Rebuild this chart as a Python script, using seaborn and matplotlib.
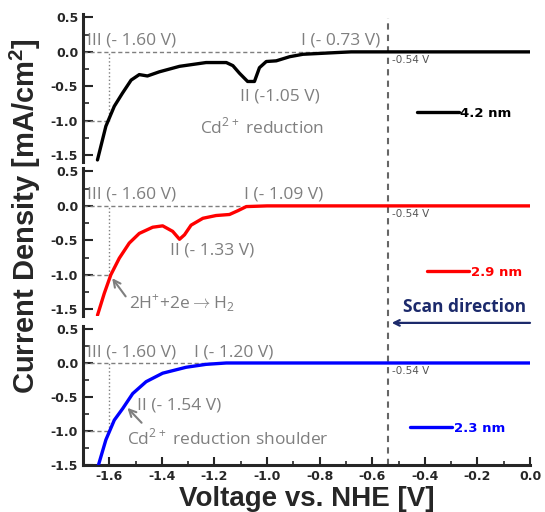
import numpy as np
import pandas as pd
import matplotlib
matplotlib.use("Agg")
import matplotlib.pyplot as plt
import seaborn as sns
from matplotlib.lines import Line2D
from matplotlib.transforms import blended_transform_factory

sns.set_style("ticks")
plt.rcParams['axes.unicode_minus'] = False
plt.rcParams['mathtext.fontset'] = 'custom'
plt.rcParams['mathtext.rm'] = 'Open Sans'
plt.rcParams['mathtext.bf'] = 'Liberation Sans:bold'

# voltage (V vs NHE) and current density (mA/cm2)
v_42 = [-1.645, -1.613, -1.581, -1.55, -1.517, -1.486, -1.455, -1.41, -1.333, -1.232,
        -1.155, -1.13, -1.105, -1.074, -1.048, -1.029, -1.003, -0.965, -0.914, -0.864,
        -0.736, -0.68, -0.4, 0.0]
i_42 = [-1.57, -1.08, -0.79, -0.60, -0.41, -0.33, -0.35, -0.29, -0.21, -0.155,
        -0.155, -0.20, -0.31, -0.43, -0.43, -0.23, -0.14, -0.13, -0.07, -0.035,
        -0.01, 0.0, 0.0, 0.0]

v_29 = [-1.645, -1.619, -1.594, -1.562, -1.524, -1.486, -1.435, -1.397, -1.359, -1.333,
        -1.314, -1.289, -1.244, -1.194, -1.143, -1.111, -1.079, -1.0, 0.0]
i_29 = [-1.59, -1.27, -1.0, -0.76, -0.54, -0.40, -0.31, -0.29, -0.37, -0.485,
        -0.42, -0.28, -0.18, -0.14, -0.125, -0.07, -0.01, 0.0, 0.0]

v_23 = [-1.645, -1.613, -1.581, -1.549, -1.511, -1.460, -1.397, -1.308, -1.232, -1.155, 0.0]
i_23 = [-1.55, -1.13, -0.84, -0.67, -0.45, -0.275, -0.15, -0.063, -0.02, 0.0, 0.0]

sizes = ["4.2 nm", "2.9 nm", "2.3 nm"]
colors = ["black", "#ff0000", "#0000ff"]
onset_I = [-0.73, -1.09, -1.20]   # point I of each curve
peak_II = ["II (-1.05 V)", "II (- 1.33 V)", "II (- 1.54 V)"]
point_III = -1.60
fermi_v = -0.54

gray = "#7f7f7f"
ann_font = dict(family="Open Sans", size=12.5, color=gray)

fig = plt.figure(figsize=(5.45, 5.12), dpi=100)
left, width = 0.1523, 0.8202
ax_top = fig.add_axes([left, 0.6836, width, 0.289])
ax_mid = fig.add_axes([left, 0.3828, width, 0.289])
ax_bot = fig.add_axes([left, 0.0918, width, 0.2723])
axes = [ax_top, ax_mid, ax_bot]

curves = [(v_42, i_42), (v_29, i_29), (v_23, i_23)]
for k, ax in enumerate(axes):
    v, i = curves[k]
    df = pd.DataFrame({"V": v, "J": i})
    # reference lines at 0, -1.0 and -1.60 V
    ax.hlines(0, -1.7, onset_I[k], colors=gray, lw=1, ls=(0, (3, 2)), zorder=1)
    ax.hlines(-1.0, -1.7, point_III, colors=gray, lw=1, ls=(0, (3, 2)), zorder=1)
    ax.vlines(point_III, -1.0, 0, colors=gray, lw=1, ls=":", zorder=1)
    sns.lineplot(data=df, x="V", y="J", ax=ax, color=colors[k], lw=2.4,
                 estimator=None, sort=False, label=sizes[k], zorder=3)
    ax.lines[-1].set_solid_capstyle("round")
    ax.lines[-1].set_solid_joinstyle("round")
    ax.set_xlim(-1.7, 0.0)
    ax.set_ylim(-1.6 if k < 2 else -1.5, 0.55)
    ax.set_yticks([0.5, 0.0, -0.5, -1.0, -1.5])
    ax.set_yticklabels(["0.5", "0.0", "-0.5", "-1.0", "-1.5"])
    ax.set_yticks(np.arange(-1.25, 0.5, 0.5), minor=True)
    ax.tick_params(axis="y", which="major", direction="in", length=7, width=1.5)
    ax.tick_params(axis="y", which="minor", direction="in", length=4, width=1.2)
    for t in ax.get_yticklabels():
        t.set_fontfamily("DejaVu Sans")
        t.set_fontweight("bold")
        t.set_fontsize(9)
    ax.spines["left"].set_linewidth(2.2)
    ax.spines["top"].set_visible(False)
    ax.spines["right"].set_visible(False)
    ax.set_xlabel("")
    ax.set_ylabel("")
    ax.set_facecolor("none")
    ax.text(-1.685, 0.16, "III (- 1.60 V)", ha="left", va="center", **ann_font)
    ax.text(-0.525, -0.12, "-0.54 V", ha="left", va="center", color="#555555",
            family="DejaVu Sans", fontsize=7.5)
    leg = ax.legend(loc="center left", frameon=False, handlelength=3.2, handletextpad=0.1,
                    borderpad=0, borderaxespad=0,
                    bbox_to_anchor=[(0.747, 0.33), (0.77, 0.297), (0.732, 0.265)][k],
                    prop=dict(family="DejaVu Sans", weight="bold", size=9.5))
    for t in leg.get_texts():
        t.set_color(colors[k])
    for h in leg.get_lines():
        h.set_linewidth(2.4)
    if k < 2:
        ax.spines["bottom"].set_visible(False)
        ax.set_xticks([])
    else:
        ax.spines["bottom"].set_linewidth(2.2)
        ax.set_xticks(np.arange(-1.6, 0.01, 0.2))
        ax.set_xticklabels(["-1.6", "-1.4", "-1.2", "-1.0", "-0.8", "-0.6", "-0.4", "-0.2", "0.0"])
        ax.set_xticks(np.arange(-1.7, 0.0, 0.1), minor=True)
        ax.tick_params(axis="x", which="major", direction="in", length=6, width=1.5)
        ax.tick_params(axis="x", which="minor", direction="in", length=3, width=1.2)
        for t in ax.get_xticklabels():
            t.set_fontfamily("DejaVu Sans")
            t.set_fontweight("bold")
            t.set_fontsize(9)

# top panel notes
ax_top.text(-0.72, 0.16, "I (- 0.73 V)", ha="center", va="center", **ann_font)
ax_top.text(-0.95, -0.65, peak_II[0], ha="center", va="center", **ann_font)
ax_top.text(-1.02, -1.10, "Cd$^{2+}$ reduction", ha="center", va="center", **ann_font)

# middle panel notes
ax_mid.text(-0.937, 0.16, "I (- 1.09 V)", ha="center", va="center", **ann_font)
ax_mid.text(-1.21, -0.655, peak_II[1], ha="center", va="center", **ann_font)
ax_mid.annotate("2H$^{+}$+2e$\\rightarrow$H$_2$", xy=(-1.589, -1.05), xytext=(-1.325, -1.41),
                ha="center", va="center", **ann_font,
                arrowprops=dict(arrowstyle="->", color=gray, lw=1.5, shrinkA=0, shrinkB=0,
                                relpos=(0.0, 0.6)))
ax_mid.annotate("", xy=(-0.526, -1.70), xytext=(0.0, -1.70), annotation_clip=False,
                arrowprops=dict(arrowstyle="->", color="#1c2a6b", lw=1.6,
                                shrinkA=0, shrinkB=0))
ax_mid.text(-0.248, -1.47, "Scan direction", ha="center", va="center", color="#1c2a6b",
            family="Open Sans", fontsize=12.5, fontweight="bold", clip_on=False)

# bottom panel notes
ax_bot.text(-1.127, 0.16, "I (- 1.20 V)", ha="center", va="center", **ann_font)
ax_bot.annotate(peak_II[2], xy=(-1.531, -0.66), xytext=(-1.333, -0.62),
                ha="center", va="center", **ann_font,
                arrowprops=dict(arrowstyle="->", color=gray, lw=1.5, shrinkA=0, shrinkB=0,
                                relpos=(0.05, -0.6)))
ax_bot.text(-1.15, -1.10, "Cd$^{2+}$ reduction shoulder", ha="center", va="center", **ann_font)

# -0.54 V line running through all three panels
trans = blended_transform_factory(ax_bot.transData, fig.transFigure)
fig.add_artist(Line2D([fermi_v, fermi_v], [0.0918, 0.965], transform=trans,
                      color="#666666", lw=1.5, ls=(0, (3, 2.5)), zorder=0))

ax_bot.set_xlabel("Voltage vs. NHE [V]", family="Liberation Sans", fontweight="bold",
                  fontsize=20, labelpad=2)
fig.text(0.046, 0.578, "Current Density [mA/cm$^\\mathbf{2}$]", rotation=90, ha="center",
         va="center", family="Liberation Sans", fontweight="bold", fontsize=21)

fig.savefig("out.png", dpi=100)
